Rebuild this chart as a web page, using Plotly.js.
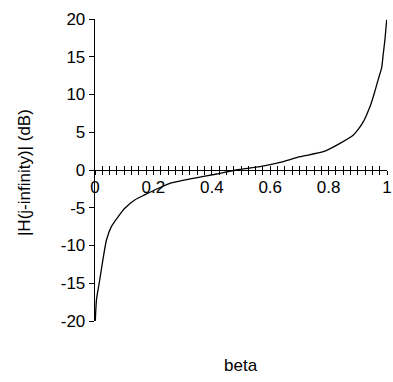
<!DOCTYPE html>
<html>
<head>
<meta charset="utf-8">
<script src="https://cdn.plot.ly/plotly-3.0.1.min.js"></script>
<style>html,body{margin:0;padding:0;background:#fff;}#chart{width:393px;height:382px;}</style>
</head>
<body>
<div id="chart"></div>
<script>
const beta = [0.001, 0.005, 0.016, 0.027, 0.039, 0.056, 0.079, 0.102, 0.136, 0.17, 0.204, 0.257, 0.337, 0.417, 0.485, 0.565, 0.634, 0.702, 0.782, 0.839, 0.885, 0.902, 0.919, 0.93, 0.942, 0.953, 0.97, 0.982, 0.987, 0.993, 0.999];
const gainDb = [-20, -17.2, -14.6, -11.9, -9.3, -7.5, -6.2, -5.07, -3.97, -3.3, -2.65, -1.77, -1.1, -0.53, 0, 0.44, 1.0, 1.76, 2.42, 3.53, 4.64, 5.4, 6.4, 7.3, 8.4, 9.7, 12.0, 13.6, 15.3, 17.3, 19.9];
const xTickStep = 0.2;
const xMinorStep = 0.025;
const yTickVals = [-20, -15, -10, -5, 0, 5, 10, 15, 20];
const yTickText = ['-20', '-15', '-10', '-5', '0', '5', '10', '15', '20'];
const xTitle = 'beta';
const yTitle = '|H(j-infinity)| (dB)';

const font = {family: 'Liberation Sans, Arial, sans-serif', size: 17, color: '#000'};

const trace = {
  x: beta, y: gainDb, type: 'scatter', mode: 'lines',
  line: {color: '#000', width: 1.3, shape: 'spline', smoothing: 0.5},
  hoverinfo: 'none', xaxis: 'x', yaxis: 'y'
};

const commonX = {
  range: [0, 1], showgrid: false, zeroline: false, fixedrange: true
};

const layout = {
  width: 393, height: 382,
  margin: {l: 95, r: 6, t: 19, b: 61},
  paper_bgcolor: '#fff', plot_bgcolor: '#fff',
  showlegend: false,
  font: font,
  xaxis: Object.assign({}, commonX, {
    anchor: 'free', position: 0.5,
    showline: true, linecolor: '#000', linewidth: 1.3,
    ticks: 'outside', ticklen: 4, tickwidth: 1, tickcolor: '#000',
    tickmode: 'linear', tick0: 0, dtick: xTickStep,
    ticklabelstandoff: -3,
    tickfont: font,
    minor: {tickmode: 'linear', tick0: 0, dtick: xMinorStep, ticks: 'outside', ticklen: 4, tickwidth: 1, tickcolor: '#000', showgrid: false}
  }),
  xaxis2: Object.assign({}, commonX, {
    overlaying: 'x', anchor: 'free', position: 0.5, side: 'bottom',
    showline: false, showticklabels: false,
    ticks: 'inside', ticklen: 4, tickwidth: 1, tickcolor: '#000',
    tickmode: 'linear', tick0: 0, dtick: xMinorStep
  }),
  yaxis: {
    range: [-20, 20], showgrid: false, zeroline: false, fixedrange: true,
    anchor: 'x', side: 'left',
    showline: true, linecolor: '#000', linewidth: 1.3,
    ticks: 'outside', ticklen: 5, tickwidth: 1, tickcolor: '#000',
    tickmode: 'array', tickvals: yTickVals, ticktext: yTickText,
    tickfont: font
  },
  annotations: [
    {text: xTitle, xref: 'paper', yref: 'paper', x: 0.5, y: -0.146,
     xanchor: 'center', yanchor: 'middle', showarrow: false, font: font},
    {text: yTitle, xref: 'paper', yref: 'paper', x: -0.243, y: 0.49,
     xanchor: 'center', yanchor: 'middle', textangle: -90, showarrow: false, font: font}
  ]
};

Plotly.newPlot('chart', [trace, {x: [0.5], y: [0], xaxis: 'x2', yaxis: 'y', type: 'scatter', mode: 'markers', marker: {opacity: 0}, hoverinfo: 'none'}], layout, {displayModeBar: false, staticPlot: true});
</script>
</body>
</html>
